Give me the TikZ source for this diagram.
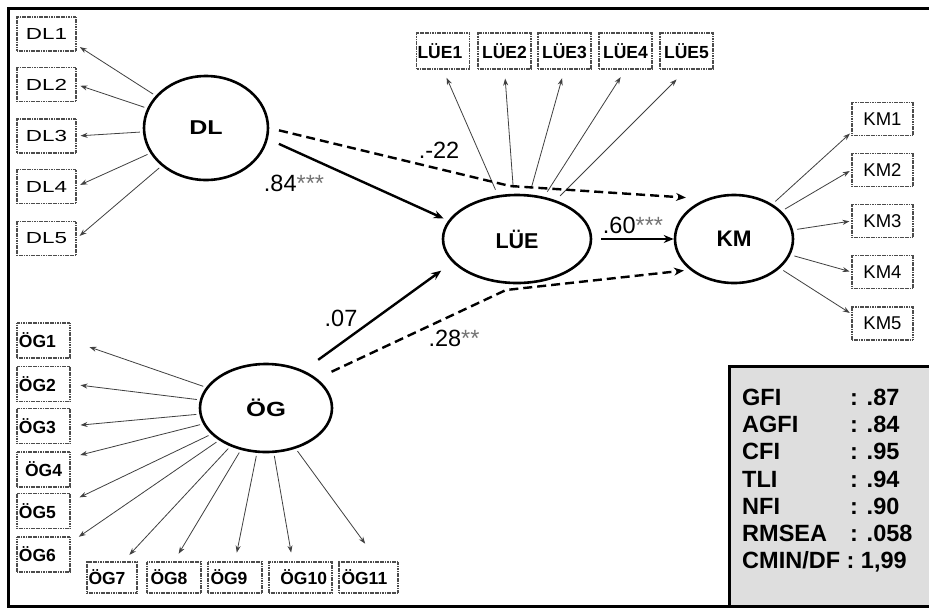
\documentclass[tikz,border=0pt]{standalone}
\usepackage{fontspec}
\setmainfont{Liberation Sans}
\newfontfamily\widefont[FakeStretch=1.4]{Liberation Sans}
\newfontfamily\midfont[FakeStretch=1.25]{Liberation Sans}
\usetikzlibrary{arrows.meta,shapes.geometric}
\begin{document}
\begin{tikzpicture}[x=1pt,y=-1pt,
  ind/.style={draw=black!70, dash pattern=on 1.2pt off 0.5pt, line width=1.1pt, inner sep=0pt, minimum height=34pt},
  latent/.style={ellipse, draw=black, line width=2.6pt, inner sep=0pt},
  meas/.style={draw=black!75, line width=0.8pt, -{Stealth[length=7pt,width=5pt]}},
  struct/.style={draw=black, line width=2.4pt, -{Stealth[length=10pt,width=8pt]}},
  structdash/.style={struct, dash pattern=on 9pt off 5pt},
  plab/.style={inner sep=0pt, font=\fontsize{23.5}{23.5}\selectfont},
  fitlab/.style={inner sep=0pt, anchor=base west, font=\bfseries\fontsize{23.5}{23.5}\selectfont}
]
\useasboundingbox (0,0) rectangle (929,611);
\fill[white] (0,0) rectangle (929,611);
% fit box background
\fill[black!13] (729,366) rectangle (929,606);
\draw[line width=3pt] (729,606) -- (729,366) -- (929,366);
% outer frame (right side cut off)
\draw[line width=3pt] (929,8) -- (8,8) -- (8,606) -- (929,606);

% latent variables
\node[latent, minimum width=124pt, minimum height=104pt] (DL) at (206,128) {\midfont\bfseries\fontsize{20}{20}\selectfont DL};
\node[latent, minimum width=148pt, minimum height=88pt] (LUE) at (517,239) {\bfseries\fontsize{21.5}{21.5}\selectfont LÜE};
\node[latent, minimum width=118pt, minimum height=88pt] (KM) at (734,239) {\bfseries\fontsize{22.5}{22.5}\selectfont KM};
\node[latent, minimum width=132pt, minimum height=88pt] (OG) at (266,408) {\midfont\bfseries\fontsize{20.5}{20.5}\selectfont ÖG};

% DL indicators
\begin{scope}[every node/.style={ind, minimum width=59pt, font=\widefont\fontsize{16}{16}\selectfont}]
\node (DL1) at (46.5,34) {DL1};
\node (DL2) at (46.5,84.5) {DL2};
\node (DL3) at (46.5,136) {DL3};
\node (DL4) at (46.5,186.5) {DL4};
\node (DL5) at (46.5,238.5) {DL5};
\end{scope}
% LUE indicators
\begin{scope}[every node/.style={ind, minimum width=53pt, minimum height=36pt, font=\bfseries\fontsize{17.5}{17.5}\selectfont}]
\node[text width=51pt, align=left] (LUE1) at (443,51) {LÜE1};
\node (LUE2) at (504.5,51) {LÜE2};
\node (LUE3) at (564.5,51) {LÜE3};
\node (LUE4) at (625.5,51) {LÜE4};
\node (LUE5) at (686.5,51) {LÜE5};
\end{scope}
% KM indicators
\begin{scope}[every node/.style={ind, minimum width=61pt, minimum height=33pt, font=\fontsize{18.5}{18.5}\selectfont}]
\node (KM1) at (882.5,119) {KM1};
\node (KM2) at (882.5,170) {KM2};
\node (KM3) at (882.5,221) {KM3};
\node (KM4) at (882.5,272) {KM4};
\node (KM5) at (882.5,323.5) {KM5};
\end{scope}
% OG indicators
\begin{scope}[every node/.style={ind, minimum width=53pt, minimum height=35pt, text width=49pt, align=left, font=\bfseries\fontsize{17.5}{17.5}\selectfont}]
\node (OG1) at (43.5,340.5) {ÖG1};
\node (OG2) at (43.5,384) {ÖG2};
\node (OG3) at (43.5,426) {ÖG3};
\node[align=center] (OG4) at (43.5,469.5) {ÖG4};
\node (OG5) at (43.5,511) {ÖG5};
\node (OG6) at (43.5,554.5) {ÖG6};
\end{scope}
\begin{scope}[every node/.style={ind, minimum height=31pt, align=left, font=\bfseries\fontsize{17.5}{17.5}\selectfont}]
\node[minimum width=50pt, text width=47pt] (OG7) at (112,577.5) {ÖG7};
\node[minimum width=54pt, text width=47pt] (OG8) at (174,577.5) {ÖG8};
\node[minimum width=54pt, text width=49pt] (OG9) at (235,577.5) {ÖG9};
\node[minimum width=63pt, text width=53pt, align=right] (OG10) at (300.5,577.5) {ÖG10};
\node[minimum width=59pt, text width=54pt] (OG11) at (368.5,577.5) {ÖG11};
\end{scope}

% measurement arrows
\draw[meas, shorten <=3pt, shorten >=4pt] (DL) -- (DL1.-20);
\draw[meas, shorten <=3pt, shorten >=4pt] (DL) -- (DL2.east);
\draw[meas, shorten <=3pt, shorten >=4pt] (DL) -- (DL3.east);
\draw[meas, shorten <=3pt, shorten >=4pt] (DL) -- (DL4.east);
\draw[meas, shorten <=3pt, shorten >=4pt] (DL) -- (DL5.east);

\draw[meas, shorten <=6pt, shorten >=9pt] (LUE) -- (LUE1.south);
\draw[meas, shorten <=6pt, shorten >=9pt] (LUE) -- (LUE2.south);
\draw[meas, shorten <=6pt, shorten >=9pt] (LUE) -- (LUE3.south);
\draw[meas, shorten <=6pt, shorten >=9pt] (LUE) -- (LUE4.south);
\draw[meas, shorten <=6pt, shorten >=14pt] (LUE) -- (LUE5.south);

\draw[meas, shorten <=4pt, shorten >=2pt] (KM) -- (KM1.-157);
\draw[meas, shorten <=4pt, shorten >=2pt] (KM) -- (KM2.west);
\draw[meas, shorten <=4pt, shorten >=2pt] (KM) -- (KM3.west);
\draw[meas, shorten <=4pt, shorten >=2pt] (KM) -- (KM4.west);
\draw[meas, shorten <=4pt, shorten >=2pt] (KM) -- (KM5.163);

\draw[meas, shorten <=3pt, shorten >=20pt] (OG) -- (OG1.east);
\draw[meas, shorten <=3pt, shorten >=10pt] (OG) -- (OG2.east);
\draw[meas, shorten <=3pt, shorten >=10pt] (OG) -- (OG3.east);
\draw[meas, shorten <=3pt, shorten >=10pt] (OG) -- (OG4.24);
\draw[meas, shorten <=3pt, shorten >=10pt] (OG) -- (OG5.19);
\draw[meas, shorten <=3pt, shorten >=10pt] (OG) -- (OG6.24);
\draw[meas, shorten <=3pt, shorten >=9pt] (OG) -- (OG7.55);
\draw[meas, shorten <=3pt, shorten >=9pt] (OG) -- (OG8.north);
\draw[meas, shorten <=3pt, shorten >=9pt] (OG) -- (OG9.north);
\draw[meas, shorten <=3pt, shorten >=9pt] (OG) -- (OG10.116);
\draw[meas, shorten <=3pt, shorten >=22pt] (OG) -- (OG11.59);

% structural paths
\coordinate (b1) at (510,186);
\coordinate (b2) at (506,290);
\draw[structdash, shorten <=10pt, shorten >=20pt] (DL.east) -- (b1) -- (KM.125);
\draw[struct, shorten <=12pt, shorten >=5pt] (DL.-10) -- (LUE.165);
\draw[struct, shorten <=9pt] (LUE.east) -- (KM.west);
\draw[struct, shorten <=18pt, shorten >=14pt] (OG.45) -- (LUE.200);
\draw[structdash, shorten <=16pt, shorten >=6pt] (OG.30) -- (b2) -- (KM.215);

% path labels
\node[plab] (l84) at (294,183) {.84{\color{black!55}***}};
\node[plab] (l22) at (439,150) {.-22};
\node[plab] (l60) at (633,225) {.60{\color{black!55}***}};
\node[plab] (l07) at (341,318) {.07};
\node[plab] (l28) at (454,338) {.28{\color{black!55}**}};

% fit indices
\node[fitlab] (f1) at (742,405) {GFI};
\node[fitlab] (f2) at (742,432) {AGFI};
\node[fitlab] (f3) at (742,459) {CFI};
\node[fitlab] (f4) at (742,487) {TLI};
\node[fitlab] (f5) at (742,514) {NFI};
\node[fitlab] (f6) at (742,541) {RMSEA};
\node[fitlab] (f7) at (742,568) {CMIN/DF : 1,99};
\node[fitlab] (v1) at (850,405) {: .87};
\node[fitlab] (v2) at (850,432) {: .84};
\node[fitlab] (v3) at (850,459) {: .95};
\node[fitlab] (v4) at (850,487) {: .94};
\node[fitlab] (v5) at (850,514) {: .90};
\node[fitlab] (v6) at (850,541) {: .058};
\end{tikzpicture}
\end{document}
